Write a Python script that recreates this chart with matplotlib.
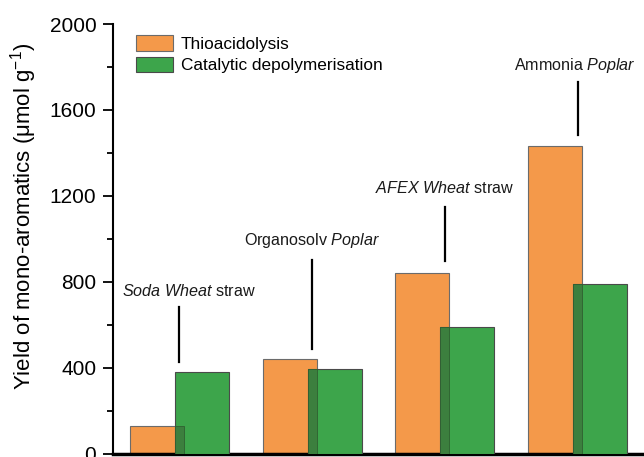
import matplotlib
matplotlib.use("Agg")
import matplotlib.pyplot as plt
import numpy as np

plt.rcParams['font.family'] = ['Liberation Sans', 'DejaVu Sans']
plt.rcParams['mathtext.fontset'] = 'custom'
plt.rcParams['mathtext.rm'] = 'Liberation Sans'
plt.rcParams['mathtext.it'] = 'Liberation Sans:italic'
plt.rcParams['mathtext.bf'] = 'Liberation Sans:bold'

categories = ["Soda Wheat straw", "Organosolv Poplar", "AFEX Wheat straw", "Ammonia Poplar"]
thioacidolysis = [130, 440, 840, 1430]
catalytic = [381, 395, 589, 791]
series_names = ["Thioacidolysis", "Catalytic depolymerisation"]
label_texts = [
    r"$\it{Soda\ Wheat}$ straw",
    r"Organosolv $\it{Poplar}$",
    r"$\it{AFEX\ Wheat}$ straw",
    r"Ammonia $\it{Poplar}$",
]
line_ranges = [(426, 681), (488, 899), (898, 1150), (1481, 1732)]
label_y = [758, 994, 1237, 1809]
label_dx = [0.075, 0.0, 0.0, -0.02]
yticks = [0, 400, 800, 1200, 1600, 2000]

orange = "#F4994A"
green = "#3DA54B"
overlap = "#3C7F3E"

fig = plt.figure(figsize=(6.44, 4.57), dpi=100)
ax = fig.add_axes([113/644, 3.5/457, 1 - 113/644, (453.5 - 24)/457])

x = np.arange(len(categories))
off = 0.169
w = 0.406
ax.bar(x - off, thioacidolysis, w, color=orange, edgecolor="#6b6b6b", linewidth=0.8,
       label=series_names[0], zorder=2)
ax.bar(x + off, catalytic, w, color=green, edgecolor="#4a4a4a", linewidth=0.8,
       label=series_names[1], zorder=3)
# overlapping region darker
ov_left = x + off - w/2
ov_right = x - off + w/2
ov_h = np.minimum(thioacidolysis, catalytic)
ax.bar((ov_left + ov_right)/2, ov_h, ov_right - ov_left, color=overlap,
       edgecolor="#2f5f30", linewidth=0.6, zorder=4)

for i in range(len(categories)):
    lo, hi = line_ranges[i]
    ax.plot([x[i], x[i]], [lo, hi], color="black", lw=1.6, zorder=5)
    ax.text(x[i] + label_dx[i], label_y[i], label_texts[i], ha="center", va="center",
            fontsize=11.6, color="#1a1a1a")

ax.set_xlim(-0.5, 3.5)
ax.set_ylim(0, 2000)
ax.set_yticks(yticks)
ax.set_yticklabels([str(v) for v in yticks], fontsize=15)
ax.yaxis.set_minor_locator(matplotlib.ticker.MultipleLocator(200))
ax.tick_params(axis="y", which="major", length=7, width=1.3, pad=5, direction="out")
ax.tick_params(axis="y", which="minor", length=4, width=1.3, direction="out")
ax.set_xticks([])
for s in ["top", "right"]:
    ax.spines[s].set_visible(False)
ax.spines["left"].set_linewidth(1.5)
ax.spines["bottom"].set_linewidth(2.5)
ax.set_ylabel("Yield of mono-aromatics (μmol g$^{-1}$)", fontsize=16)
ax.yaxis.set_label_coords(-0.139, 0.553)

leg = ax.legend(loc="upper left", bbox_to_anchor=(0.03, 0.99), fontsize=12.4, frameon=False,
                handlelength=2.15, handleheight=1.0, handletextpad=0.45, labelspacing=0.28,
                borderaxespad=0.0)

fig.savefig("out.png", dpi=100)
